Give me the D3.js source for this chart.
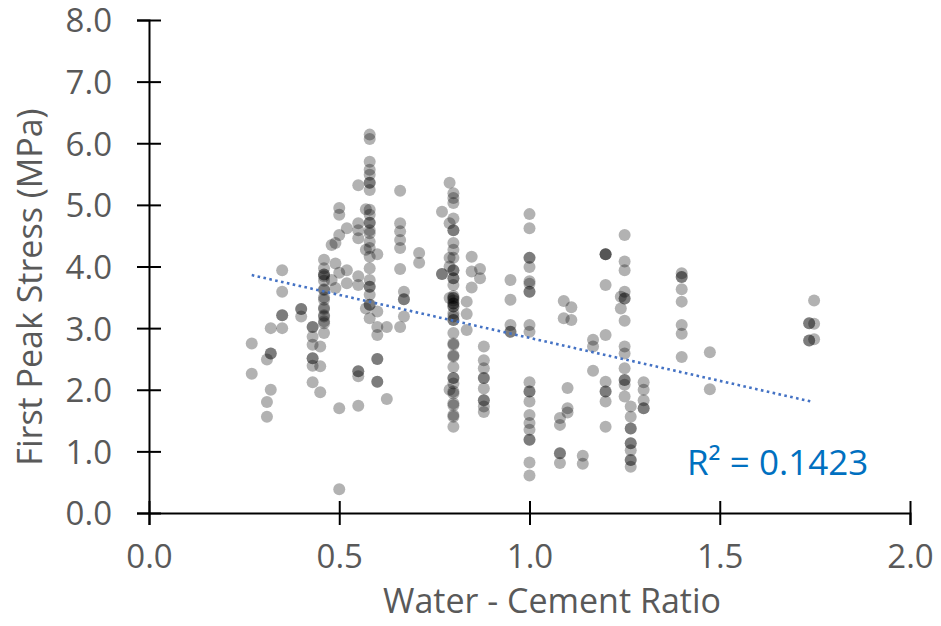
<!DOCTYPE html>
<html>
<head>
<meta charset="utf-8">
<script src="https://cdn.jsdelivr.net/npm/d3@7"></script>
<style>
  html, body { margin: 0; padding: 0; background: #fff; }
  svg { display: block; }
  text { font-family: "Open Sans", "Noto Sans", sans-serif; }
</style>
</head>
<body>
<svg id="chart" width="941" height="626"></svg>
<script>
// ---- Data ----
// Water-cement ratio of each column of points
const wcRatios = [0.27, 0.31, 0.32, 0.35, 0.40, 0.43, 0.45, 0.46, 0.48, 0.49,
                  0.50, 0.52, 0.55, 0.57, 0.58, 0.60, 0.625, 0.66, 0.67, 0.71,
                  0.77, 0.79, 0.80, 0.835, 0.848, 0.87, 0.88, 0.95, 1.00, 1.08,
                  1.09, 1.10, 1.11, 1.14, 1.167, 1.20, 1.24, 1.25, 1.266, 1.30,
                  1.40, 1.474, 1.735, 1.748];
// First peak stress (MPa) values at each water-cement ratio
const peakStress = [
  [2.75, 2.26],
  [2.49, 1.80, 1.56],
  [3.00, 2.59, 2.59, 2.00],
  [3.94, 3.59, 3.21, 3.21, 3.00],
  [3.31, 3.31, 3.19],
  [3.02, 3.02, 2.86, 2.73, 2.51, 2.51, 2.39, 2.12],
  [2.70, 2.38, 1.96],
  [4.11, 3.97, 3.87, 3.87, 3.84, 3.77, 3.63, 3.62, 3.50, 3.46, 3.33, 3.31, 3.21, 3.19, 3.11, 3.08, 2.92],
  [4.35, 3.78],
  [4.38, 4.05, 3.65],
  [4.95, 4.84, 4.51, 3.90, 1.70, 0.385],
  [4.62, 3.94, 3.73],
  [5.32, 4.70, 4.59, 4.46, 3.84, 3.70, 2.30, 2.30, 2.22, 1.74],
  [4.93, 4.27, 3.32],
  [6.14, 6.07, 5.70, 5.57, 5.49, 5.36, 5.36, 5.24, 4.92, 4.84, 4.71, 4.71, 4.59, 4.54, 4.40, 4.30, 4.16, 3.97, 3.78, 3.67, 3.67, 3.54, 3.38, 3.38, 3.16],
  [4.20, 3.27, 3.02, 2.89, 2.50, 2.50, 2.13, 2.13],
  [3.02, 1.85],
  [5.23, 4.70, 4.57, 4.43, 4.30, 3.96, 3.02],
  [3.59, 3.47, 3.47, 3.19],
  [4.22, 4.06],
  [4.89, 3.88, 3.88],
  [5.36, 4.70, 4.14, 4.00, 3.49, 2.00],
  [5.19, 5.11, 5.03, 4.78, 4.59, 4.59, 4.38, 4.27, 4.14, 3.94, 3.94, 3.81, 3.81, 3.70, 3.52, 3.49, 3.49, 3.45, 3.40, 3.40, 3.35, 3.35, 3.24, 3.19, 3.13, 3.13, 2.92, 2.75, 2.73, 2.56, 2.54, 2.37, 2.19, 2.19, 2.10, 1.97, 1.94, 1.78, 1.75, 1.59, 1.56, 1.40],
  [3.43, 3.23, 2.97],
  [4.16, 3.92, 3.66],
  [3.96, 3.81],
  [2.70, 2.48, 2.35, 2.19, 2.19, 2.02, 1.83, 1.83, 1.73, 1.64],
  [3.78, 3.46, 3.05, 2.94, 2.94],
  [4.85, 4.62, 4.14, 4.14, 3.99, 3.76, 3.72, 3.59, 3.59, 3.05, 2.94, 2.12, 1.97, 1.97, 1.81, 1.59, 1.46, 1.35, 1.19, 1.19, 0.82, 0.61],
  [1.54, 1.43, 0.97, 0.97, 0.81],
  [3.44, 3.16],
  [2.03, 1.70, 1.63],
  [3.34, 3.13],
  [0.93, 0.80],
  [2.81, 2.70, 2.31],
  [4.20, 4.20, 4.20, 3.70, 2.89, 2.13, 1.97, 1.97, 1.81, 1.40],
  [3.51, 3.32],
  [4.51, 4.08, 3.94, 3.59, 3.48, 3.48, 3.12, 2.70, 2.59, 2.35, 2.16, 2.16, 2.08, 1.89],
  [1.73, 1.56, 1.37, 1.37, 1.13, 1.13, 1.02, 0.86, 0.86, 0.75],
  [2.12, 2.00, 1.83, 1.70, 1.70],
  [3.89, 3.83, 3.83, 3.63, 3.43, 3.05, 2.91, 2.53],
  [2.61, 2.01],
  [3.08, 3.08, 2.80, 2.80],
  [3.45, 3.07, 2.82]
];
// Linear trendline (as shown in the reference) and its R²
const trendIntercept = 4.237;
const trendSlope = -1.395;
const trendRange = [0.27, 1.74];
const rSquaredLabel = "R\u00B2 = 0.1423";

const xTicks = [0, 0.5, 1.0, 1.5, 2.0];
const yTicks = [0, 1, 2, 3, 4, 5, 6, 7, 8];
const xTitle = "Water - Cement Ratio";
const yTitle = "First Peak Stress (MPa)";

// ---- Chart ----
const svg = d3.select("#chart");
const x = d3.scaleLinear().domain([0, 2]).range([149, 910]);
const y = d3.scaleLinear().domain([0, 8]).range([513, 20]);
const textColor = "#595959";

const points = [];
wcRatios.forEach((w, i) => peakStress[i].forEach(s => points.push({w, s})));

// points
svg.append("g")
  .selectAll("circle")
  .data(points)
  .join("circle")
  .attr("cx", d => x(d.w))
  .attr("cy", d => y(d.s))
  .attr("r", 6)
  .attr("fill", "#000")
  .attr("fill-opacity", 0.3);

// trendline
svg.append("line")
  .attr("x1", x(trendRange[0]))
  .attr("y1", y(trendIntercept + trendSlope * trendRange[0]))
  .attr("x2", x(trendRange[1]))
  .attr("y2", y(trendIntercept + trendSlope * trendRange[1]))
  .attr("stroke", "#4472C4")
  .attr("stroke-width", 2.6)
  .attr("stroke-dasharray", "2.6 3.4");

// x axis
const xAxis = svg.append("g")
  .attr("transform", `translate(0,${y(0)})`)
  .call(d3.axisBottom(x).tickValues(xTicks).tickFormat(d3.format(".1f")).tickSizeOuter(0).tickSize(12));
xAxis.select(".domain").attr("stroke", "#000").attr("stroke-width", 2);
xAxis.selectAll(".tick line").attr("y1", -12).attr("y2", 12).attr("stroke", "#000").attr("stroke-width", 2);
xAxis.selectAll(".tick text")
  .attr("y", 55).attr("dy", null)
  .attr("fill", textColor).style("font-size", "33px");

// y axis
const yAxis = svg.append("g")
  .attr("transform", `translate(${x(0)},0)`)
  .call(d3.axisLeft(y).tickValues(yTicks).tickFormat(d3.format(".1f")).tickSizeOuter(0).tickSize(12));
yAxis.select(".domain").attr("stroke", "#000").attr("stroke-width", 2);
yAxis.selectAll(".tick line").attr("x1", -12).attr("x2", 12).attr("stroke", "#000").attr("stroke-width", 2);
yAxis.selectAll(".tick text")
  .attr("x", -37).attr("dy", "0.36em")
  .attr("fill", textColor).style("font-size", "33px");

// titles
svg.append("text")
  .attr("x", 552).attr("y", 613)
  .attr("text-anchor", "middle")
  .attr("fill", textColor).style("font-size", "34px")
  .text(xTitle);

svg.append("text")
  .attr("transform", "translate(42,287) rotate(-90)")
  .attr("text-anchor", "middle")
  .attr("fill", textColor).style("font-size", "34px")
  .text(yTitle);

// R² label
svg.append("text")
  .attr("x", 687).attr("y", 475)
  .attr("fill", "#0070C0").style("font-size", "35px")
  .text(rSquaredLabel);
</script>
</body>
</html>
